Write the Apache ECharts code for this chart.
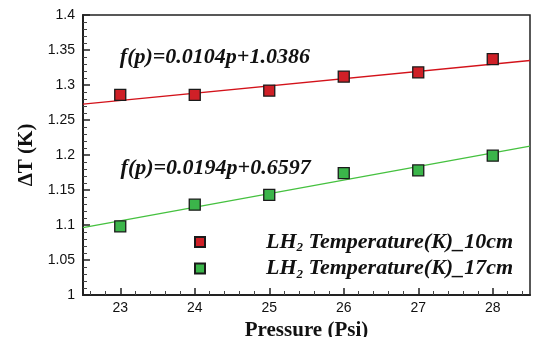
<!DOCTYPE html>
<html>
<head>
<meta charset="utf-8">
<script src="https://cdn.jsdelivr.net/npm/echarts@6/dist/echarts.min.js"></script>
<style>html,body{margin:0;padding:0;background:#fff}#c{width:534px;height:337px}</style>
</head>
<body>
<div id="c"></div>
<script>
var pressure = [23, 24, 25, 26, 27, 28];
var temp10cm = [1.286, 1.286, 1.292, 1.312, 1.318, 1.337];
var temp17cm = [1.098, 1.129, 1.143, 1.174, 1.178, 1.199];
var fitX = [22.5, 28.5];
var fit10cm = [1.2726, 1.3350];
var fit17cm = [1.0962, 1.2126];
var xMajorTicks = [23, 24, 25, 26, 27, 28];
var xMinorTicks = [22.6, 22.8, 23.2, 23.4, 23.6, 23.8, 24.2, 24.4, 24.6, 24.8, 25.2, 25.4, 25.6, 25.8, 26.2, 26.4, 26.6, 26.8, 27.2, 27.4, 27.6, 27.8, 28.2, 28.4];
var fitText10 = 'f(p)=0.0104p+1.0386';
var fitText17 = 'f(p)=0.0194p+0.6597';
var fitPos10 = [24.27, 1.340];
var fitPos17 = [24.28, 1.1814];
var name10 = 'LH2 Temperature(K)_10cm';
var name17 = 'LH2 Temperature(K)_17cm';

function pairs(xs, ys) { return xs.map(function (x, i) { return [x, ys[i]]; }); }

var serif = '"Liberation Serif","Times New Roman",serif';
var sans = '"Liberation Sans",Arial,sans-serif';
var red = '#cf2027', green = '#3bb54a', redLine = '#d3121a', greenLine = '#45c13f';

var annLabel = { show: true, position: 'inside', fontFamily: serif, fontWeight: 'bold', fontStyle: 'italic', fontSize: 22, color: '#111' };

var chart = echarts.init(document.getElementById('c'));
chart.setOption({
  animation: false,
  backgroundColor: '#fff',
  grid: { left: 83, right: 4, top: 15, bottom: 42, show: true, borderColor: '#222', borderWidth: 1.5, backgroundColor: 'transparent', containLabel: false, outerBoundsMode: 'none' },
  legend: {
    orient: 'vertical', left: 189, top: 226,
    data: [name10, name17],
    icon: 'rect', itemWidth: 10, itemHeight: 10, itemGap: 3,
    formatter: function (n) {
      var rest = n.slice(3);
      return '{sp|}{a|LH}{sub|2}{a|' + rest + '}';
    },
    textStyle: {
      rich: {
        sp: { width: 56, lineHeight: 25 },
        a: { fontFamily: serif, fontWeight: 'bold', fontStyle: 'italic', fontSize: 22, color: '#111', lineHeight: 25 },
        sub: { fontFamily: serif, fontWeight: 'bold', fontStyle: 'italic', fontSize: 13, color: '#111', lineHeight: 13, verticalAlign: 'bottom' }
      }
    }
  },
  xAxis: [{
    type: 'value', min: 22.5, max: 28.5,
    name: 'Pressure (Psi)', nameLocation: 'middle', nameGap: 20,
    nameTextStyle: { fontFamily: serif, fontWeight: 'bold', fontSize: 21, color: '#111' },
    axisLine: { show: true, lineStyle: { color: '#222', width: 2 } },
    axisTick: { show: true, inside: true, length: 7, customValues: xMajorTicks, lineStyle: { color: '#222', width: 1.5 } },
    axisLabel: { customValues: xMajorTicks, fontFamily: sans, fontSize: 14, color: '#111', margin: 6 },
    splitLine: { show: false }
  }, {
    type: 'value', min: 22.5, max: 28.5, position: 'bottom', gridIndex: 0, offset: 0,
    axisLine: { show: false },
    axisTick: { show: true, inside: true, length: 4, customValues: xMinorTicks, lineStyle: { color: '#444', width: 1 } },
    axisLabel: { show: false },
    splitLine: { show: false }
  }],
  yAxis: {
    type: 'value', min: 1, max: 1.4, interval: 0.05,
    name: 'ΔT (K)', nameLocation: 'middle', nameGap: 44,
    nameTextStyle: { fontFamily: serif, fontWeight: 'bold', fontSize: 21, color: '#111' },
    axisLine: { show: true, lineStyle: { color: '#222', width: 2 } },
    axisTick: { show: true, inside: true, length: 7, lineStyle: { color: '#222', width: 1.5 } },
    minorTick: { show: true, splitNumber: 5, length: 4, lineStyle: { color: '#444', width: 1 } },
    axisLabel: { fontFamily: sans, fontSize: 14, color: '#111', margin: 8 },
    splitLine: { show: false }
  },
  series: [
    {
      name: 'fit10', type: 'line', data: pairs(fitX, fit10cm), showSymbol: false, symbol: 'none',
      lineStyle: { color: redLine, width: 1.3 }, z: 2,
      markPoint: { symbol: 'rect', symbolSize: 1, itemStyle: { color: 'rgba(0,0,0,0)' }, label: annLabel,
        data: [{ coord: fitPos10, value: fitText10, label: { formatter: fitText10 } }] }
    },
    {
      name: 'fit17', type: 'line', data: pairs(fitX, fit17cm), showSymbol: false, symbol: 'none',
      lineStyle: { color: greenLine, width: 1.3 }, z: 2,
      markPoint: { symbol: 'rect', symbolSize: 1, itemStyle: { color: 'rgba(0,0,0,0)' }, label: annLabel,
        data: [{ coord: fitPos17, value: fitText17, label: { formatter: fitText17 } }] }
    },
    {
      name: name10, type: 'scatter', data: pairs(pressure, temp10cm), symbol: 'rect', symbolSize: 11, z: 3,
      itemStyle: { color: red, borderColor: '#1a1a1a', borderWidth: 1.3, opacity: 1 }
    },
    {
      name: name17, type: 'scatter', data: pairs(pressure, temp17cm), symbol: 'rect', symbolSize: 11, z: 3,
      itemStyle: { color: green, borderColor: '#1a1a1a', borderWidth: 1.3, opacity: 1 }
    }
  ]
});
</script>
</body>
</html>
